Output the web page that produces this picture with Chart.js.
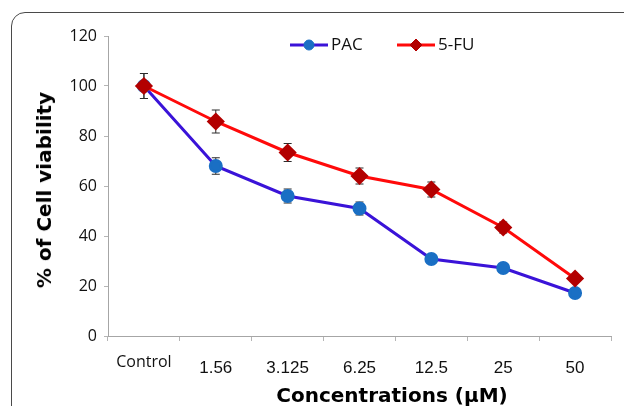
<!DOCTYPE html>
<html>
<head>
<meta charset="utf-8">
<script src="https://cdn.jsdelivr.net/npm/chart.js@4.4.1/dist/chart.umd.min.js"></script>
<style>
    html, body { margin: 0; padding: 0; background: #fff; overflow: hidden; }
    #wrap { position: relative; width: 624px; height: 406px; }
    #marco { position: absolute; left: 11px; top: 12px; width: 700px; height: 500px; border: 1.5px solid #4a4a4a; border-radius: 14px; box-sizing: border-box; }
    canvas { position: absolute; left: 0; top: 0; }
    .titulo { position: absolute; font: bold 20px "DejaVu Sans", sans-serif; color: #000; white-space: nowrap; }
    #tituloY { left: 44px; top: 190px; transform: translate(-50%, -50%) rotate(-90deg); }
    #tituloX { left: 392px; top: 395px; transform: translate(-50%, -50%); }
</style>
</head>
<body>
<div id="wrap">
    <div id="marco"></div>
    <canvas id="grafico" width="624" height="406"></canvas>
    <div class="titulo" id="tituloY">% of Cell viability</div>
    <div class="titulo" id="tituloX">Concentrations (µM)</div>
</div>
<script>
// Datos
const categorias = ['Control', '1.56', '3.125', '6.25', '12.5', '25', '50'];
const pac = [100, 68, 56, 51, 30.8, 27.2, 17.2];
const pacError = [5, 3.3, 2.8, 2.6, 1.5, 1.5, 1.2];
const fu = [100, 85.8, 73.4, 64, 58.6, 43.4, 23];
const fuError = [5, 4.6, 3.6, 3.2, 3, 2.2, 1.5];
const ticksY = [0, 20, 40, 60, 80, 100, 120];

const azulLinea = '#3a13d8';
const azulPunto = '#1a6fc4';
const rojoLinea = '#ff0a0a';
const rojoPunto = '#b30000';

// Barras de error dibujadas con las escalas del gráfico (debajo de los marcadores)
const barrasError = {
    id: 'barrasError',
    beforeDatasetsDraw(chart) {
        const ctx = chart.ctx;
        const y = chart.scales.y;
        ctx.save();
        ctx.strokeStyle = '#2b2b2b';
        ctx.lineWidth = 1;
        chart.data.datasets.forEach((ds, i) => {
            const meta = chart.getDatasetMeta(i);
            meta.data.forEach((p, j) => {
                const e = ds.errores[j];
                const y1 = y.getPixelForValue(ds.data[j] + e);
                const y2 = y.getPixelForValue(ds.data[j] - e);
                ctx.beginPath();
                ctx.moveTo(p.x, y1); ctx.lineTo(p.x, y2);
                ctx.moveTo(p.x - 4, y1); ctx.lineTo(p.x + 4, y1);
                ctx.moveTo(p.x - 4, y2); ctx.lineTo(p.x + 4, y2);
                ctx.stroke();
            });
        });
        ctx.restore();
    }
};

// Leyenda con línea y marcador
const leyenda = {
    id: 'leyenda',
    afterDraw(chart) {
        const ctx = chart.ctx;
        const items = [
            { x: 290, texto: 'PAC', linea: azulLinea, punto: azulPunto, estilo: 'circle', radio: 5 },
            { x: 397, texto: '5-FU', linea: rojoLinea, punto: rojoPunto, estilo: 'rectRot', radio: 6 }
        ];
        const yc = 45;
        ctx.save();
        items.forEach(it => {
            ctx.strokeStyle = it.linea;
            ctx.lineWidth = 3;
            ctx.beginPath();
            ctx.moveTo(it.x, yc); ctx.lineTo(it.x + 38, yc);
            ctx.stroke();
            ctx.fillStyle = it.punto;
            ctx.strokeStyle = it.punto;
            ctx.lineWidth = 1;
            Chart.helpers.drawPoint(ctx, { pointStyle: it.estilo, radius: it.radio, rotation: 0, borderWidth: 1 }, it.x + 19, yc);
            ctx.fillStyle = '#111';
            ctx.font = '17px "Open Sans"';
            ctx.textBaseline = 'middle';
            ctx.fillText(it.texto, it.x + 41, yc);
        });
        ctx.restore();
    }
};

new Chart(document.getElementById('grafico'), {
    type: 'line',
    data: {
        labels: categorias,
        datasets: [{
            label: 'PAC',
            data: pac,
            errores: pacError,
            borderColor: azulLinea,
            borderWidth: 3,
            pointStyle: 'circle',
            pointRadius: 5.5,
            pointBackgroundColor: azulPunto,
            pointBorderColor: azulPunto,
            order: 1
        }, {
            label: '5-FU',
            data: fu,
            errores: fuError,
            borderColor: rojoLinea,
            borderWidth: 3,
            pointStyle: 'rectRot',
            pointRadius: 7,
            pointBackgroundColor: rojoPunto,
            pointBorderColor: rojoPunto,
            order: 0
        }]
    },
    options: {
        responsive: false,
        animation: false,
        layout: { padding: { top: 36, right: 13, left: 0, bottom: 0 } },
        plugins: { legend: { display: false }, tooltip: { enabled: false } },
        scales: {
            x: {
                offset: true,
                grid: { display: true, drawOnChartArea: false, offset: true, tickLength: 5, color: '#b5b5b5' },
                border: { color: '#a6a6a6' },
                ticks: {
                    padding: 1,
                    color: '#111',
                    font: (c) => c.index === 0
                        ? { family: 'Open Sans', size: 16, lineHeight: 2.5 }
                        : { family: 'Liberation Sans', size: 17, lineHeight: 3.06 }
                },
                afterFit: (s) => { s.height = 70; }
            },
            y: {
                min: 0,
                max: 120,
                afterBuildTicks: (s) => { s.ticks = ticksY.map(v => ({ value: v })); },
                ticks: { padding: 7, color: '#111', font: { family: 'Open Sans', size: 16 } },
                grid: { drawOnChartArea: false, tickLength: 4, color: '#b5b5b5' },
                border: { color: '#a6a6a6' },
                afterFit: (s) => { s.width = 108; }
            }
        }
    },
    plugins: [barrasError, leyenda]
});
</script>
</body>
</html>
